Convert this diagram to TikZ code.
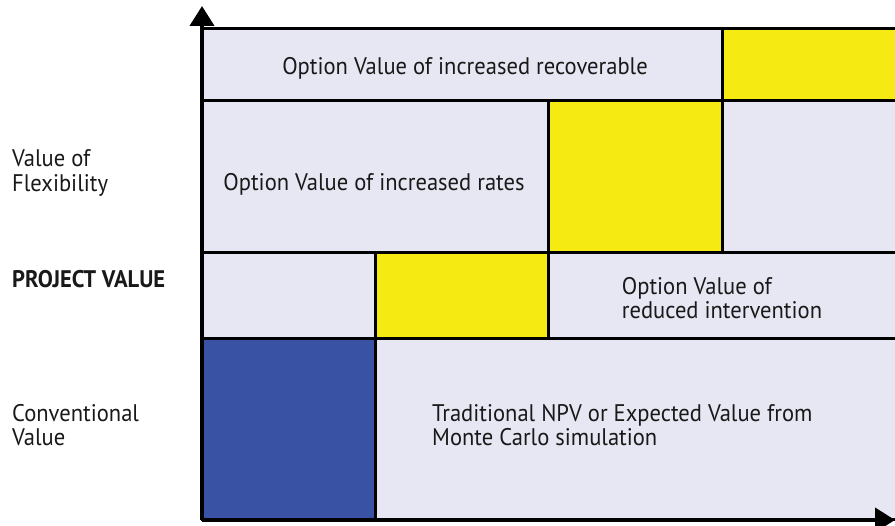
\documentclass[tikz,border=0pt]{standalone}
\usepackage{fontspec}
\setmainfont{PT Sans}[FakeStretch=0.94]
\usetikzlibrary{arrows.meta}
\definecolor{cellgray}{HTML}{E6E7F3}
\definecolor{cellyellow}{HTML}{F5EB13}
\definecolor{cellblue}{HTML}{3A52A3}
\tikzset{
  cell/.style={draw=black, line width=3pt},
  lbl/.style={font=\fontsize{24}{24.5}\selectfont, text=black!90, inner sep=0pt},
  sidelbl/.style={lbl, anchor=west, align=left},
  axis/.style={line width=4pt, -{Triangle[length=20pt,width=24pt]}}
}
\begin{document}
\begin{tikzpicture}[x=1pt,y=-1pt]
\useasboundingbox (0,0) rectangle (895,526);
\begin{scope}
\clip (0,0) rectangle (895,526);
% top row
\filldraw[cell, fill=cellgray]   (202,29)  rectangle (722,101);
\filldraw[cell, fill=cellyellow] (722,29)  rectangle (900,101);
% second row
\filldraw[cell, fill=cellgray]   (202,101) rectangle (548,253);
\filldraw[cell, fill=cellyellow] (548,101) rectangle (722,253);
\filldraw[cell, fill=cellgray]   (722,101) rectangle (900,253);
% third row
\filldraw[cell, fill=cellgray]   (202,253) rectangle (375,339);
\filldraw[cell, fill=cellyellow] (375,253) rectangle (548,339);
\filldraw[cell, fill=cellgray]   (548,253) rectangle (900,339);
% bottom row
\filldraw[cell, fill=cellblue]   (202,339) rectangle (375,520);
\filldraw[cell, fill=cellgray]   (375,339) rectangle (900,520);
\end{scope}

% axes
\coordinate (origin) at (202,520);
\coordinate (ytip) at (202,6);
\coordinate (xtip) at (895,520);
\draw[axis] (origin) -- (ytip);
\draw[axis] (origin) -- (xtip);

% cell texts
\node[lbl] (recov) at (465,68) {Option Value of increased recoverable};
\node[lbl] (rates) at (374,184) {Option Value of increased rates};
\node[lbl, align=left] (interv) at (722,298) {Option Value of\\reduced intervention};
\node[lbl, align=left, anchor=west] (npv) at (432,425) {Traditional NPV or Expected Value from\\Monte Carlo simulation};

% side labels
\node[sidelbl] (flex) at (12,173) {Value of\\Flexibility};
\node[sidelbl, font=\fontsize{24}{24.5}\selectfont\bfseries] (proj) at (12,279) {PROJECT VALUE};
\node[sidelbl] (conv) at (12,425) {Conventional\\Value};
\end{tikzpicture}
\end{document}
